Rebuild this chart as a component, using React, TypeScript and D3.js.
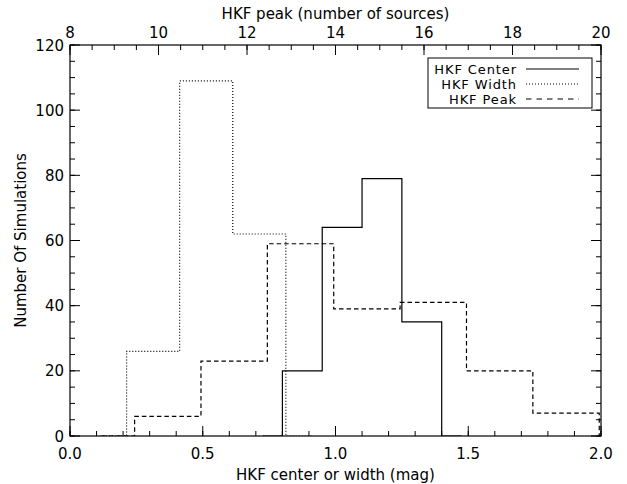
import React from "react";
import * as d3 from "d3";

// histogram bins
const centerEdges = [0.8, 0.95, 1.1, 1.25, 1.4];
const centerCounts = [20, 64, 79, 35];
const widthEdges = [0.213, 0.413, 0.613, 0.813];
const widthCounts = [26, 109, 62];
const peakEdges = [9.46, 10.96, 12.46, 13.96, 15.46, 16.96, 18.46, 19.96];
const peakCounts = [6, 23, 59, 39, 41, 20, 7];

const legendLabels = ["HKF Center", "HKF Width", "HKF Peak"];
const legendDash = [null, "1,2", "5.5,5"];

const W = 627;
const H = 484;
const left = 70;
const right = 601;
const top = 45;
const bottom = 436;
const font = "'DejaVu Sans', sans-serif";

const xBottom = d3.scaleLinear().domain([0, 2]).range([left, right]);
const xTop = d3.scaleLinear().domain([8, 20]).range([left, right]);
const y = d3.scaleLinear().domain([0, 120]).range([bottom, top]);

// IDL psym=10 style step: empty half-bins on both ends
const stepPoints = (edges: number[], counts: number[]) => {
  const half = (edges[1] - edges[0]) / 2;
  const pts: [number, number][] = [
    [edges[0] - half, 0],
    [edges[0], 0],
  ];
  counts.forEach((c, i) => {
    pts.push([edges[i], c]);
    pts.push([edges[i + 1], c]);
  });
  const last = edges[edges.length - 1];
  pts.push([last, 0]);
  pts.push([last + half, 0]);
  return pts;
};

const App = () => {
  const lineB = d3
    .line<[number, number]>()
    .x((d) => xBottom(d[0]))
    .y((d) => y(d[1]));
  const lineT = d3
    .line<[number, number]>()
    .x((d) => xTop(d[0]))
    .y((d) => y(d[1]));

  const bMajor = xBottom.ticks(4);
  const bMinor = xBottom.ticks(20);
  const tMajor = xTop.ticks(6);
  const tMinor = xTop.ticks(24);
  const yMajor = y.ticks(6);
  const yMinor = y.ticks(24);
  const fmt1 = d3.format(".1f");

  return (
    <svg
      width={W}
      height={H}
      style={{ position: "absolute", left: 0, top: 0, background: "#fff" }}
      fontFamily={font}
      fontSize={15}
    >
      <defs>
        <clipPath id="plot">
          <rect x={left} y={top} width={right - left} height={bottom - top} />
        </clipPath>
      </defs>

      <g clipPath="url(#plot)" fill="none" stroke="#000" strokeWidth={1.2}>
        <path d={lineB(stepPoints(centerEdges, centerCounts)) || ""} />
        <path
          d={lineB(stepPoints(widthEdges, widthCounts)) || ""}
          strokeDasharray="1,2"
        />
        <path
          d={lineT(stepPoints(peakEdges, peakCounts)) || ""}
          strokeDasharray="4.5,3"
        />
      </g>

      {/* frame */}
      <rect
        x={left}
        y={top}
        width={right - left}
        height={bottom - top}
        fill="none"
        stroke="#000"
        strokeWidth={1.2}
      />

      {/* ticks */}
      <g stroke="#000" strokeWidth={1}>
        {bMinor.map((t) => (
          <line key={"bm" + t} x1={xBottom(t)} x2={xBottom(t)} y1={bottom} y2={bottom - 5} />
        ))}
        {bMajor.map((t) => (
          <line key={"bM" + t} x1={xBottom(t)} x2={xBottom(t)} y1={bottom} y2={bottom - 10} />
        ))}
        {tMinor.map((t) => (
          <line key={"tm" + t} x1={xTop(t)} x2={xTop(t)} y1={top} y2={top + 5} />
        ))}
        {tMajor.map((t) => (
          <line key={"tM" + t} x1={xTop(t)} x2={xTop(t)} y1={top} y2={top + 10} />
        ))}
        {yMinor.map((t) => (
          <g key={"ym" + t}>
            <line x1={left} x2={left + 5} y1={y(t)} y2={y(t)} />
            <line x1={right} x2={right - 5} y1={y(t)} y2={y(t)} />
          </g>
        ))}
        {yMajor.map((t) => (
          <g key={"yM" + t}>
            <line x1={left} x2={left + 10} y1={y(t)} y2={y(t)} />
            <line x1={right} x2={right - 10} y1={y(t)} y2={y(t)} />
          </g>
        ))}
      </g>

      <g fill="#000">
        {bMajor.map((t) => (
          <text key={"bl" + t} x={xBottom(t)} y={459} textAnchor="middle">
            {fmt1(t)}
          </text>
        ))}
        {tMajor.map((t) => (
          <text key={"tl" + t} x={xTop(t)} y={38} textAnchor="middle">
            {t}
          </text>
        ))}
        {yMajor.map((t) => (
          <text key={"yl" + t} x={64} y={y(t) + 5.5} textAnchor="end">
            {t}
          </text>
        ))}
        <text x={(left + right) / 2} y={480} textAnchor="middle">
          HKF center or width (mag)
        </text>
        <text x={(left + right) / 2} y={19} textAnchor="middle">
          HKF peak (number of sources)
        </text>
        <text
          transform={`translate(26,${(top + bottom) / 2}) rotate(-90)`}
          textAnchor="middle"
        >
          Number Of Simulations
        </text>
      </g>

      {/* legend */}
      <g>
        <rect x={428} y={58} width={164} height={50} fill="#fff" stroke="#000" strokeWidth={1} />
        {legendLabels.map((lab, i) => {
          const ly = 69 + i * 15;
          return (
            <g key={lab}>
              <text
                x={517}
                y={ly + 4.5}
                textAnchor="end"
                fill="#000"
                fontSize={13}
                letterSpacing={0.9}
              >
                {lab}
              </text>
              <line
                x1={526}
                x2={579}
                y1={ly}
                y2={ly}
                stroke="#000"
                strokeWidth={1.2}
                strokeDasharray={legendDash[i] || undefined}
              />
            </g>
          );
        })}
      </g>
    </svg>
  );
};

export default App;
